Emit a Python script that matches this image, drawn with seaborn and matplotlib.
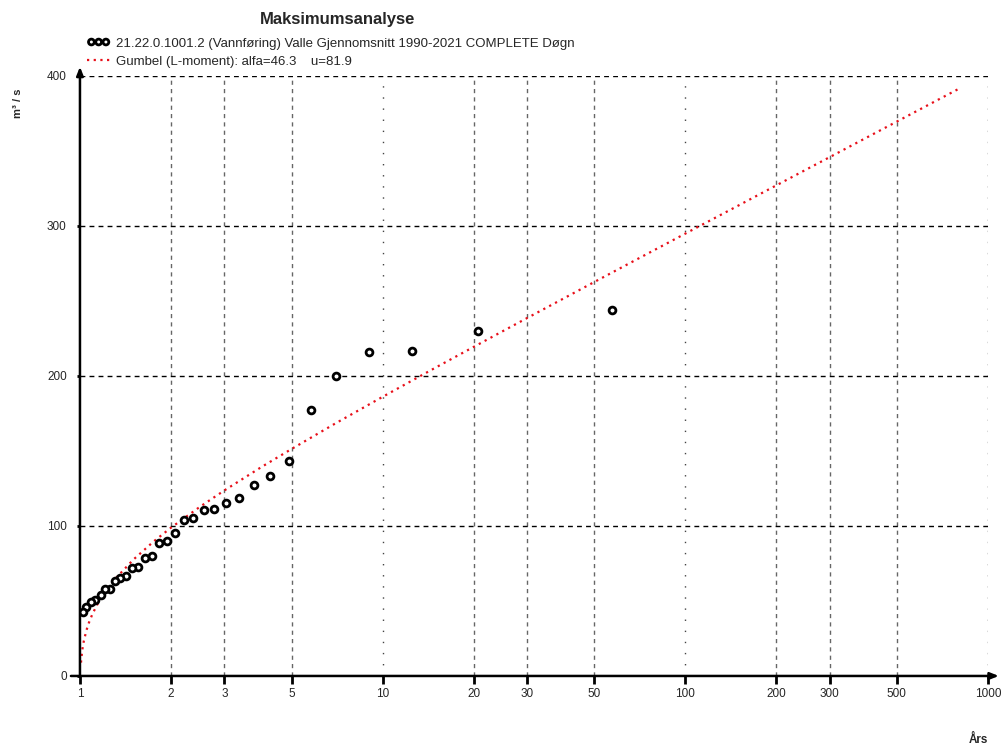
import numpy as np
import pandas as pd
import seaborn as sns
import matplotlib.pyplot as plt

# Observerte årsmaksima (rangert) og returperiode
return_period = [57.36, 20.59, 12.55, 9.02, 7.04, 5.78, 4.90, 4.25, 3.75, 3.36,
                 3.04, 2.78, 2.56, 2.37, 2.21, 2.06, 1.94, 1.83, 1.73, 1.64,
                 1.56, 1.49, 1.42, 1.36, 1.31, 1.26, 1.21, 1.17, 1.12, 1.09,
                 1.05, 1.02]
flow = [244.0, 230.0, 216.7, 216.0, 200.0, 177.3, 143.3, 133.3, 127.3, 118.7,
        115.3, 111.3, 110.7, 105.3, 104.0, 95.3, 90.0, 88.7, 80.0, 78.7,
        72.7, 72.0, 66.7, 65.3, 63.3, 58.0, 58.0, 54.0, 50.7, 49.3,
        46.0, 42.7]

# Gumbel-kurven lest av figuren
gumbel_T = [1.008, 1.012, 1.02, 1.03, 1.05, 1.07, 1.1, 1.15, 1.2, 1.3, 1.5,
            1.75, 2, 2.5, 3, 4, 5, 7, 10, 15, 20, 30, 50, 70, 100, 150, 200,
            300, 500, 800]
gumbel_Q = [8.9, 12.9, 18.5, 23.4, 30.3, 35.4, 41.4, 49.0, 54.9, 64.2, 77.5,
            89.6, 98.9, 113.0, 123.7, 139.6, 151.3, 168.5, 186.1, 205.7, 219.4,
            238.6, 262.6, 278.3, 294.9, 313.7, 327.1, 345.9, 369.6, 391.4]

x_ticks = [1, 2, 3, 5, 10, 20, 30, 50, 100, 200, 300, 500, 1000]
y_ticks = [0, 100, 200, 300, 400]

obs_label = '21.22.0.1001.2 (Vannføring) Valle Gjennomsnitt 1990-2021 COMPLETE Døgn'
fit_label = 'Gumbel (L-moment): alfa=46.3    u=81.9'

sns.set_style('white')
plt.rcParams['font.family'] = ['Liberation Sans', 'DejaVu Sans']

df_obs = pd.DataFrame({'T': return_period, 'Q': flow})
df_fit = pd.DataFrame({'T': gumbel_T, 'Q': gumbel_Q})

fig = plt.figure(figsize=(10.02, 7.47), dpi=100)
ax = fig.add_axes([0.0798, 0.0951, 0.9062, 0.8032])

sns.lineplot(data=df_fit, x='T', y='Q', ax=ax, color='#e8101a', lw=1.6,
             linestyle=(0, (1, 2)), label=fit_label, zorder=3)
sns.scatterplot(data=df_obs, x='T', y='Q', ax=ax, marker='o', s=24,
                facecolor='white', edgecolor='black', linewidth=2.0,
                label=obs_label, zorder=4)

ax.set_xscale('log')
ax.set_xlim(1, 1000)
ax.set_ylim(0, 400)
ax.set_xticks(x_ticks)
ax.set_xticklabels([str(t) for t in x_ticks])
ax.minorticks_off()
ax.set_yticks(y_ticks)
ax.set_xlabel('')
ax.set_ylabel('')

# Rutenett: tiere prikket, resten stiplet
for t in x_ticks[1:]:
    if t in (10, 100, 1000):
        ax.axvline(t, color='#444444', lw=1, ls=(0, (1, 7)), zorder=1)
    else:
        ax.axvline(t, color='#666666', lw=1, ls=(0, (3, 3)), zorder=1)
for v in y_ticks[1:]:
    ax.axhline(v, color='black', lw=1, ls=(0, (3.5, 3)), zorder=1)

for s in ax.spines.values():
    s.set_visible(False)

# Akser med piler
ax.annotate('', xy=(0, 1.02), xytext=(0, -0.004), xycoords='axes fraction',
            arrowprops=dict(arrowstyle='-|>,head_length=0.5,head_width=0.2',
                            lw=1.8, color='black'))
ax.annotate('', xy=(1.015, 0), xytext=(-0.013, 0), xycoords='axes fraction',
            arrowprops=dict(arrowstyle='-|>,head_length=0.5,head_width=0.2',
                            lw=1.8, color='black'))

ax.tick_params(axis='x', bottom=True, length=6, width=2, color='black',
               labelsize=8.5, pad=3)
ax.tick_params(axis='y', left=True, length=2.5, width=2, color='black',
               labelsize=8.5, pad=7)

# rekkefølge: observasjoner først
h, l = ax.get_legend_handles_labels()
ax.legend([h[1], h[0]], [l[1], l[0]], loc='upper left',
          bbox_to_anchor=(0.082, 0.957), bbox_transform=fig.transFigure,
          frameon=False, fontsize=9.5, handlelength=1.7, handletextpad=0.5,
          labelspacing=0.45, borderaxespad=0, scatterpoints=3,
          scatteryoffsets=[0.5], markerscale=0.85)

fig.text(0.337, 0.974, 'Maksimumsanalyse', ha='center', va='center',
         fontsize=12, fontweight='bold')
fig.text(0.018, 1 - 103 / 747, 'm³ / s', rotation=90, ha='center', va='center',
         fontsize=8, fontweight='bold')
fig.text(0.976, 1 - 740 / 747, 'Års', ha='center', va='center',
         fontsize=8.5, fontweight='bold')

fig.savefig('out.png', dpi=100)
